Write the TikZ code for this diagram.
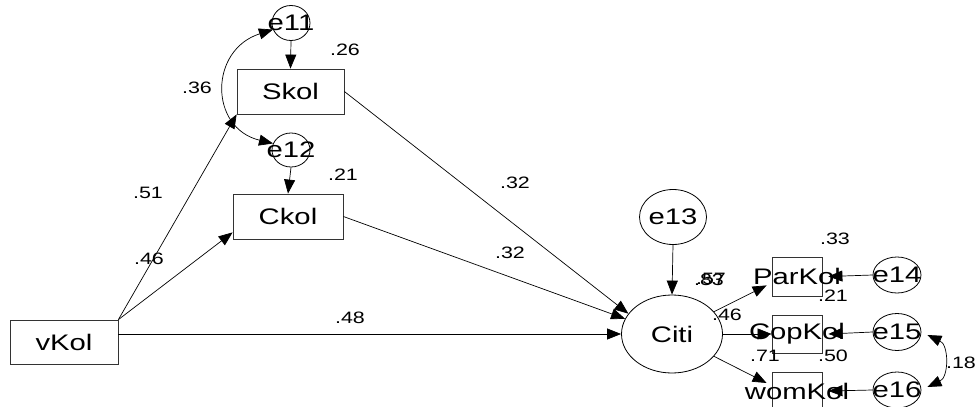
\documentclass[tikz,border=0pt]{standalone}
\usepackage{fontspec}
\usepackage{graphicx}
\setmainfont{Liberation Sans}
\usetikzlibrary{shapes.geometric,arrows.meta,calc}
\newcommand{\wx}[1]{\scalebox{1.3}[1]{#1}}
\newcommand{\wl}[1]{\scalebox{1.3}[1]{#1}}
\tikzset{
  obs/.style={draw=black!80, line width=0.8pt, rectangle, inner sep=0pt,
    font=\fontsize{22.5}{22.5}\selectfont},
  lat/.style={draw=black, line width=0.8pt, ellipse, inner sep=0pt,
    font=\fontsize{22.5}{22.5}\selectfont},
  lbl/.style={inner sep=0pt, font=\fontsize{16.5}{16.5}\selectfont},
  pth/.style={line width=0.7pt, -{Triangle[length=14pt,width=11pt]}},
  cov/.style={line width=0.7pt, {Triangle[length=14pt,width=11pt]}-{Triangle[length=14pt,width=11pt]}}
}
\begin{document}
\begin{tikzpicture}[x=1pt,y=-1pt]
\useasboundingbox (0,0) rectangle (975,407);
% observed boxes
\node[obs, minimum width=108pt, minimum height=44pt] (vKol) at (64,342) {\makebox[0pt]{\wx{vKol}}};
\node[obs, minimum width=107pt, minimum height=45pt] (Skol) at (290.5,91.5) {\makebox[0pt]{\wx{Skol}}};
\node[obs, minimum width=110pt, minimum height=45pt] (Ckol) at (288,216.5) {\makebox[0pt]{\wx{Ckol}}};
\node[obs, minimum width=50pt, minimum height=39pt] (ParKol) at (797,276.5) {\makebox[0pt]{\wx{ParKol}}};
\node[obs, minimum width=50pt, minimum height=38pt] (CopKol) at (797,334) {\makebox[0pt]{\wx{CopKol}}};
\node[obs, minimum width=50pt, minimum height=38pt] (womKol) at (797,391) {\makebox[0pt]{\wx{womKol}}};
% latent / error ellipses
\node[lat, minimum width=38pt, minimum height=35pt] (e11) at (291,23) {\makebox[0pt]{\wx{e11}}};
\node[lat, minimum width=38pt, minimum height=34pt] (e12) at (291,150) {\makebox[0pt]{\wx{e12}}};
\node[lat, minimum width=101pt, minimum height=78pt] (Citi) at (672,334) {\makebox[0pt]{\wx{Citi}}};
\node[lat, minimum width=67pt, minimum height=55pt] (e13) at (673,217) {\makebox[0pt]{\wx{e13}}};
\node[lat, minimum width=48pt, minimum height=36pt] (e14) at (897,275) {\makebox[0pt]{\wx{e14}}};
\node[lat, minimum width=48pt, minimum height=37pt] (e15) at (897,332) {\makebox[0pt]{\wx{e15}}};
\node[lat, minimum width=48pt, minimum height=36pt] (e16) at (897,390) {\makebox[0pt]{\wx{e16}}};
% paths
\draw[pth] (e11.south) -- (Skol.north);
\draw[pth] (e12.south) -- (Ckol.north);
\draw[pth] (vKol.north east) -- (Skol.south west);
\draw[pth] (vKol.north east) -- ($(Ckol.south west)+(0,-7)$);
\draw[pth] (vKol.east |- Citi.west) -- (Citi.west);
\draw[pth] (Skol.east) -- (Citi.155);
\draw[pth] (Ckol.east) -- (Citi.162);
\draw[pth] (e13.south) -- (Citi.north);
\draw[pth] (Citi.28) -- ($(ParKol.south west)+(-5,-11)$);
\draw[pth] (Citi.east) -- (CopKol.west);
\draw[pth] (Citi.-28) -- ($(womKol.west)+(-5,-8)$);
\draw[pth] (e14.west) -- ($(ParKol.east)+(6,0)$);
\draw[pth] (e15.west) -- ($(CopKol.east)+(6,0)$);
\draw[pth] (e16.west) -- ($(womKol.east)+(6,0)$);
% covariances
\draw[cov] (e11.200) .. controls (209,50) and (209,128) .. (e12.160);
\draw[cov] ($(e15.east)+(6,3)$) .. controls (949,345) and (949,377) .. ($(e16.east)+(6,-3)$);
% labels
\node[lbl] (l26) at (345,50) {\wl{.26}};
\node[lbl] (l21a) at (343,175) {\wl{.21}};
\node[lbl] (l36) at (197,88) {\wl{.36}};
\node[lbl] (l51) at (148,193) {\wl{.51}};
\node[lbl] (l46a) at (149,259) {\wl{.46}};
\node[lbl] (l32a) at (515,183) {\wl{.32}};
\node[lbl] (l32b) at (510,253) {\wl{.32}};
\node[lbl] (l48) at (350,318) {\wl{.48}};
\node[lbl] (l33) at (835,239) {\wl{.33}};
\node[lbl] (l83) at (709,280) {\wl{.83}};
\node[lbl] (l57) at (711,279) {\wl{.57}};
\node[lbl] (l21b) at (833,296) {\wl{.21}};
\node[lbl] (l46b) at (727,315) {\wl{.46}};
\node[lbl] (l71) at (765,356) {\wl{.71}};
\node[lbl] (l50) at (833,356) {\wl{.50}};
\node[lbl] (l18) at (961,363) {\wl{.18}};
\end{tikzpicture}
\end{document}
